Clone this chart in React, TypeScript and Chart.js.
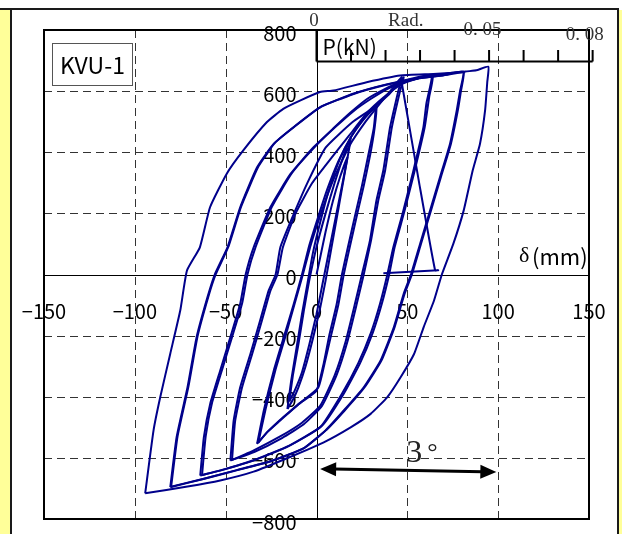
import React, { useEffect, useRef } from "react";
import { Chart, registerables } from "chart.js";

Chart.register(...registerables);

// ---- axis / label data ----
const xTicks = [-150, -100, -50, 0, 50, 100, 150];
const yTicks = [800, 600, 400, 200, 0, -200, -400, -600, -800];
const radTicks = [0, 0.01, 0.02, 0.03, 0.04, 0.05, 0.06, 0.07, 0.08];
const radLabelValues = [0, 0.05, 0.08];
const radLabelTexts = ["0", "0. 05", "0. 08"];
const mmPerRad = 1900;
const specimenName = "KVU-1";
const loadTitle = "P(kN)";
const dispSymbol = "δ";
const dispUnit = "(mm)";
const radTitle = "Rad.";
const driftText = "3";
const driftDegree = "°";
const arrowMm = [2, 99];
const arrowKN = [-636, -646];

// ---- hysteresis data (displacement mm, load kN) ----
const cycle01: number[][] = [
  [0, 0], [2, 55], [5, 140], [9, 240], [13, 320], [17, 384],
  [15, 320], [12, 230], [9, 140], [6, 50], [3, -40], [0, -130], [-4, -230], [-8, -320], [-12, -380], [-15, -415],
];
const cycle02: number[][] = [
  [-15, -415], [-13, -330], [-10, -230], [-7, -120], [-4, -20], [0, 90], [5, 200], [10, 300], [15, 390], [19, 449],
  [17, 380], [14, 280], [11, 180], [8, 80], [5, -20], [2, -110], [-2, -210], [-6, -300], [-10, -370], [-13, -410], [-16, -440],
];
const cycle03: number[][] = [
  [-16, -440], [-14, -350], [-11, -240], [-8, -130], [-5, -30], [-2, 70], [2, 170], [7, 280], [13, 380], [19, 450], [25, 500], [30, 535], [32.5, 547],
  [31.5, 478], [28.5, 390], [25, 290], [21.5, 200], [17.5, 95], [14, 0], [11, -100], [7, -200], [4, -290], [0, -380], [-10, -425], [-20, -478], [-27, -515], [-32.7, -554],
];
const cycle04: number[][] = [
  [-32.7, -554], [-29, -445], [-23.5, -314], [-18, -205], [-12.5, -96], [-8, 0], [-4, 95], [1, 190], [6, 280], [12, 370], [19, 450], [26, 510], [31, 540], [33, 550],
  [32, 480], [29.5, 390], [26, 290], [22.5, 200], [18.5, 95], [15, 0], [12, -100], [8, -200], [4.5, -290], [1, -370], [-9, -420], [-19, -470], [-27, -515], [-32, -550],
];
const cycle05: number[][] = [
  [-32, -550], [-28, -440], [-22.5, -310], [-17, -200], [-12, -95], [-7.5, 0], [-3, 100], [3, 210], [10, 320], [18, 420], [27, 500], [35, 560], [42, 610], [47, 647],
  [45, 600], [40.5, 482], [36.8, 341], [33, 242], [29.4, 111], [25, 0], [21, -100], [16, -220], [10, -330], [2, -430], [-8, -485], [-20, -530], [-34.8, -576], [-47.4, -609],
];
const cycle06: number[][] = [
  [-47.4, -609], [-45.6, -478], [-42, -369], [-36.4, -260], [-31, -150], [-26.3, -52], [-22.5, 0], [-19.9, 89], [-12.5, 198], [-5, 300], [5, 415], [19.7, 498], [30.7, 543], [40, 590], [46, 630], [48, 645],
  [46, 600], [41.5, 482], [37.8, 341], [34, 242], [30, 111], [26, 0], [22, -100], [17, -220], [11, -330], [3, -430], [-7, -490], [-19, -535], [-34, -580], [-46.5, -607],
];
const cycle07: number[][] = [
  [-46.5, -607], [-44.8, -480], [-41, -370], [-35.5, -262], [-30, -150], [-25.5, -55], [-21.5, 0], [-18.5, 89], [-11.5, 200], [-2.3, 300], [8, 380], [18, 455], [28, 530], [37, 580], [46, 620], [55, 640], [63.4, 651],
  [60.5, 560], [58.8, 480], [53.3, 339], [47.8, 209], [42.3, 89], [39, 0], [35, -95], [30, -190], [23, -290], [14, -390], [2, -500], [-16.4, -565], [-34.8, -609], [-53, -641], [-64, -658],
];
const cycle08: number[][] = [
  [-64, -658], [-62, -532], [-58.5, -423], [-53, -314], [-47.4, -205], [-42, -96], [-39, 0], [-34.6, 89], [-25.4, 220], [-14.3, 329], [-1.5, 417], [9.6, 480], [18.7, 530], [28, 575], [37, 605], [46, 630], [55, 645], [64, 652],
  [62, 580], [59.5, 480], [54, 339], [48.5, 209], [43, 89], [40, 0], [36, -95], [31, -190], [24, -290], [15, -390], [3, -495], [-15, -560], [-34, -606], [-52, -640], [-63, -656],
];
const cycle09: number[][] = [
  [-63, -656], [-61, -530], [-57.5, -420], [-52, -312], [-46.5, -205], [-41, -96], [-38, 0], [-33.5, 90], [-24.5, 222], [-13.5, 332], [-0.5, 420], [10.5, 483], [20, 533], [30, 575], [40, 610], [50, 632], [60, 648], [70, 656], [80.8, 663],
  [79, 600], [77.2, 537], [73.5, 428], [68, 319], [62.5, 209], [57, 100], [52, 0], [48, -63], [42.6, -172], [35.3, -281], [26, -369], [15, -445], [5, -510], [-7.3, -570], [-25.6, -612], [-44, -641], [-62.3, -669], [-80.5, -696],
];
const cycle10: number[][] = [
  [-80.5, -696], [-77, -532], [-71, -369], [-66, -205], [-60, -74], [-56, 0], [-49, 89], [-42, 220], [-32.7, 351], [-23.5, 428], [-12.5, 482], [2, 547], [20, 590], [38, 620], [55, 640], [70, 652], [81, 664],
  [79.5, 600], [77.8, 537], [74, 428], [68.5, 319], [63, 209], [57.5, 100], [52.5, 0], [48.5, -63], [43, -172], [35.8, -281], [26.5, -369], [15.5, -445], [5.5, -508], [-7, -568], [-25, -610], [-44, -640], [-62, -668], [-80, -694],
];
const cycle11: number[][] = [
  [-80, -694], [-76.5, -530], [-70.5, -367], [-65.5, -203], [-59.5, -72], [-55.5, 0], [-48.5, 91], [-41.5, 222], [-32, 353], [-23, 430], [-12, 485], [2.5, 549], [20.5, 592], [38.5, 622], [55.5, 642], [70, 652], [82, 664], [88, 668], [94.6, 680],
  [94, 630], [92.8, 537], [90, 428], [86, 341], [81, 209], [75.3, 100], [69, 0], [64.7, -85], [59, -172], [53.7, -260], [46.3, -336], [39, -401], [29.8, -456], [18.8, -500], [4, -549], [-14.6, -597], [-34.6, -645], [-53, -674], [-71, -694], [-94.3, -716],
];
const cycle12: number[][] = [
  [-94.3, -716], [-89.7, -510], [-86, -401], [-80.5, -259], [-75, -118], [-71.3, 13], [-64.2, 89], [-58.6, 220], [-49.4, 330], [-40.3, 406], [-27.4, 498], [-18.3, 542], [-9.1, 569], [1.9, 597], [9.3, 602], [27.6, 629], [46, 651], [64.3, 656], [81.8, 662],
];
const slipPath: number[][] = [
  [47, 625], [47.8, 597], [56.5, 300], [65.3, 13], [67, 14], [36.8, 4],
];

const allCycles = [cycle01, cycle02, cycle03, cycle04, cycle05, cycle06, cycle07, cycle08, cycle09, cycle10, cycle11, cycle12, slipPath];

const CURVE = "#00008B";
const SANS = '"Noto Sans CJK JP", "Noto Sans", sans-serif';
const SERIF = '"Liberation Serif", "DejaVu Serif", serif';

const decorPlugin = {
  id: "decor",
  beforeDraw(chart: any) {
    const ctx = chart.ctx;
    const W = chart.width;
    const H = chart.height;
    ctx.save();
    ctx.fillStyle = "#ffffff";
    ctx.fillRect(0, 0, W, H);
    // yellow strips
    ctx.fillStyle = "#FFFF99";
    ctx.fillRect(0, 10, 10, H - 10);
    ctx.fillRect(619, 10, W - 619, H - 10);
    // frame lines
    ctx.strokeStyle = "#1a1a1a";
    ctx.lineWidth = 2;
    ctx.beginPath();
    ctx.moveTo(0, 9);
    ctx.lineTo(619, 9);
    ctx.moveTo(11, 9);
    ctx.lineTo(11, H);
    ctx.moveTo(618, 9);
    ctx.lineTo(618, H);
    ctx.stroke();
    ctx.restore();
  },
  beforeDatasetsDraw(chart: any) {
    const ctx = chart.ctx;
    const xs = chart.scales.x;
    const ys = chart.scales.y;
    const a = chart.chartArea;
    const x0 = xs.getPixelForValue(0);
    const y0 = ys.getPixelForValue(0);
    ctx.save();
    // dashed grid
    ctx.strokeStyle = "#333333";
    ctx.lineWidth = 1;
    ctx.setLineDash([8, 5]);
    ctx.beginPath();
    xTicks.forEach((v) => {
      if (v === 0 || v === xs.min || v === xs.max) return;
      const p = Math.round(xs.getPixelForValue(v)) + 0.5;
      ctx.moveTo(p, a.top);
      ctx.lineTo(p, a.bottom);
    });
    yTicks.forEach((v) => {
      if (v === 0 || v === ys.min || v === ys.max) return;
      const p = Math.round(ys.getPixelForValue(v)) + 0.5;
      ctx.moveTo(a.left, p);
      ctx.lineTo(a.right, p);
    });
    ctx.stroke();
    ctx.setLineDash([]);
    // zero axes
    ctx.strokeStyle = "#000";
    ctx.beginPath();
    const zx = Math.round(x0) + 0.5;
    const zy = Math.round(y0) + 0.5;
    ctx.moveTo(zx, a.top);
    ctx.lineTo(zx, a.bottom);
    ctx.moveTo(a.left, zy);
    ctx.lineTo(a.right, zy);
    ctx.stroke();
    // plot border
    ctx.lineWidth = 2;
    ctx.strokeRect(a.left, a.top, a.right - a.left, a.bottom - a.top);

    // tick labels
    ctx.fillStyle = "#000";
    ctx.font = `20px ${SANS}`;
    ctx.textAlign = "center";
    ctx.textBaseline = "middle";
    xTicks.forEach((v) => {
      const t = v < 0 ? "\u2212" + Math.abs(v) : String(v);
      ctx.fillText(t, xs.getPixelForValue(v), y0 + 36.5);
    });
    ctx.textAlign = "right";
    yTicks.forEach((v) => {
      const t = v < 0 ? "\u2212" + Math.abs(v) : String(v);
      ctx.fillText(t, x0 - 20, ys.getPixelForValue(v) + 3);
    });

    // rad axis (top)
    const radY = a.top + 31.5;
    const radTop = a.top + 20;
    ctx.strokeStyle = "#000";
    ctx.lineWidth = 2;
    ctx.beginPath();
    ctx.moveTo(xs.getPixelForValue(0), radY);
    ctx.lineTo(xs.getPixelForValue(radTicks[radTicks.length - 1] * mmPerRad), radY);
    radTicks.forEach((r, i) => {
      const p = xs.getPixelForValue(r * mmPerRad);
      ctx.moveTo(p, radY);
      ctx.lineTo(p, i === 0 ? a.top : radTop);
    });
    ctx.stroke();
    ctx.fillStyle = "#333";
    ctx.font = `19px ${SERIF}`;
    ctx.textAlign = "center";
    const radOffsets = [[-2.5, -9], [-6.5, 0], [-8, 5]];
    radLabelValues.forEach((r, i) => {
      const p = xs.getPixelForValue(r * mmPerRad);
      ctx.fillText(radLabelTexts[i], p + radOffsets[i][0], a.top + radOffsets[i][1]);
    });
    ctx.fillText(radTitle, xs.getPixelForValue(0.025 * mmPerRad) + 3, a.top - 9);

    // P(kN)
    ctx.fillStyle = "#000";
    ctx.font = `21px ${SANS}`;
    ctx.textAlign = "left";
    ctx.fillText(loadTitle, x0 + 6, a.top + 17);

    // δ(mm)
    ctx.font = `22px ${SERIF}`;
    ctx.fillText(dispSymbol, a.right - 70, y0 - 18);
    ctx.font = `22px ${SANS}`;
    ctx.fillText(dispUnit, a.right - 57, y0 - 18);

    // specimen box
    ctx.fillStyle = "#fff";
    ctx.fillRect(a.left + 8, a.top + 13, 81, 42);
    ctx.strokeStyle = "#555";
    ctx.lineWidth = 1;
    ctx.strokeRect(a.left + 8.5, a.top + 13.5, 80, 42);
    ctx.fillStyle = "#000";
    ctx.font = `23px ${SANS}`;
    ctx.textAlign = "center";
    ctx.fillText(specimenName, a.left + 48.5, a.top + 35);
    ctx.restore();
  },
  afterDatasetsDraw(chart: any) {
    const ctx = chart.ctx;
    const xs = chart.scales.x;
    const ys = chart.scales.y;
    const x1 = xs.getPixelForValue(arrowMm[0]);
    const x2 = xs.getPixelForValue(arrowMm[1]);
    const y1 = ys.getPixelForValue(arrowKN[0]);
    const y2 = ys.getPixelForValue(arrowKN[1]);
    ctx.save();
    const ang = Math.atan2(y2 - y1, x2 - x1);
    const headL = 16;
    const headW = 7;
    ctx.strokeStyle = "#000";
    ctx.fillStyle = "#000";
    ctx.lineWidth = 3;
    ctx.beginPath();
    ctx.moveTo(x1 + Math.cos(ang) * (headL - 2), y1 + Math.sin(ang) * (headL - 2));
    ctx.lineTo(x2 - Math.cos(ang) * (headL - 2), y2 - Math.sin(ang) * (headL - 2));
    ctx.stroke();
    const head = (tx: number, ty: number, dir: number) => {
      const bx = tx + dir * Math.cos(ang) * headL;
      const by = ty + dir * Math.sin(ang) * headL;
      const nx = -Math.sin(ang) * headW;
      const ny = Math.cos(ang) * headW;
      ctx.beginPath();
      ctx.moveTo(tx, ty);
      ctx.lineTo(bx + nx, by + ny);
      ctx.lineTo(bx - nx, by - ny);
      ctx.closePath();
      ctx.fill();
    };
    head(x1, y1, 1);
    head(x2, y2, -1);
    // 3°
    ctx.fillStyle = "#222";
    ctx.font = `32px ${SERIF}`;
    ctx.textAlign = "left";
    ctx.textBaseline = "alphabetic";
    const midX = xs.getPixelForValue((arrowMm[0] + arrowMm[1]) / 2);
    ctx.fillText(driftText, midX - 2, y1 - 7);
    ctx.font = `26px ${SERIF}`;
    ctx.fillText(driftDegree, midX + 19, y1 - 9);
    ctx.restore();
  },
};

export default function App() {
  const ref = useRef<HTMLCanvasElement | null>(null);
  useEffect(() => {
    if (!ref.current) return;
    const chart = new Chart(ref.current, {
      type: "scatter",
      data: {
        datasets: allCycles.map((c, i) => ({
          label: "c" + i,
          data: c.map(([x, y]) => ({ x, y })),
          showLine: true,
          borderColor: CURVE,
          backgroundColor: CURVE,
          borderWidth: 2,
          pointRadius: 0,
          tension: 0.15,
        })),
      },
      options: {
        animation: false,
        responsive: false,
        layout: { padding: { left: 44, top: 30, right: 33, bottom: 15 } },
        plugins: { legend: { display: false }, tooltip: { enabled: false } },
        scales: {
          x: { type: "linear", min: -150, max: 150, display: false },
          y: { type: "linear", min: -800, max: 800, display: false },
        },
      },
      plugins: [decorPlugin],
    });
    return () => chart.destroy();
  }, []);
  return (
    <div style={{ position: "absolute", left: 0, top: 0, width: 622, height: 534 }}>
      <canvas ref={ref} width={622} height={534} style={{ display: "block" }} />
    </div>
  );
}
